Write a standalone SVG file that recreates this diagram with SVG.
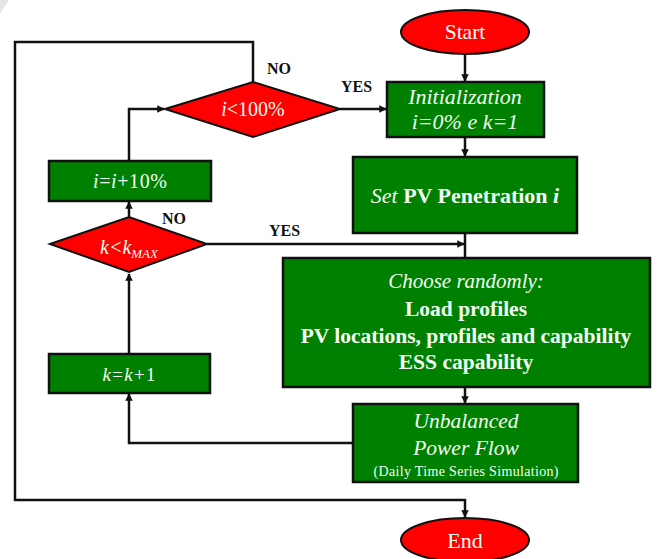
<svg xmlns="http://www.w3.org/2000/svg" width="658" height="559" viewBox="0 0 658 559">
<style>
.box{fill:#008000;stroke:#111;stroke-width:2.5}
.dec{fill:#ff0000;stroke:#111;stroke-width:2}
.term{fill:#ff0000;stroke:#111;stroke-width:2}
.t{font-family:"Liberation Serif","Times New Roman",serif;fill:#f2fff2;text-anchor:middle}
.lbl{font-family:"Liberation Serif","Times New Roman",serif;fill:#111;font-weight:bold;font-size:16px}
.c{fill:none;stroke:#111;stroke-width:2.5}
</style>
<defs>
<marker id="ah" viewBox="0 0 10 10" refX="9" refY="5" markerWidth="3" markerHeight="3" orient="auto" markerUnits="strokeWidth">
<path d="M0,0 L10,5 L0,10 z" fill="#111"/>
</marker>
</defs>
<rect width="658" height="559" fill="#fff"/>
<polygon points="0,0 9,0 0,14" fill="#e6e6e6"/>
<g id="connectors">
<path class="c" d="M465,54 V81" marker-end="url(#ah)"/>
<path class="c" d="M465,137 V156" marker-end="url(#ah)"/>
<path class="c" d="M465,233 V258"/>
<path class="c" d="M207,244 H464" marker-end="url(#ah)"/>
<path class="c" d="M465,387 V403" marker-end="url(#ah)"/>
<path class="c" d="M353,443 H129 V394" marker-end="url(#ah)"/>
<path class="c" d="M129,354 V274" marker-end="url(#ah)"/>
<path class="c" d="M129,217 V202" marker-end="url(#ah)"/>
<path class="c" d="M129,161 V109 H164" marker-end="url(#ah)"/>
<path class="c" d="M340,109 H386" marker-end="url(#ah)"/>
<path class="c" d="M253,82 V42 H15 V500 H465 V517" marker-end="url(#ah)"/>
</g>
<g id="labels">
<text class="lbl" x="267" y="74">NO</text>
<text class="lbl" x="341" y="92">YES</text>
<text class="lbl" x="162" y="224">NO</text>
<text class="lbl" x="269" y="236">YES</text>
</g>
<g id="start">
<ellipse class="term" cx="465" cy="32" rx="64" ry="22"/>
<text class="t" x="465" y="39" font-size="21.5">Start</text>
</g>
<g id="cond_i">
<polygon class="dec" points="165,109 253,82 340,109 253,137"/>
<text class="t" x="253" y="116" font-size="20"><tspan font-style="italic">i</tspan>&lt;100%</text>
</g>
<g id="init">
<rect class="box" x="387" y="82" width="157" height="55"/>
<text class="t" x="465" y="104" font-size="22" font-style="italic">Initialization</text>
<text class="t" x="465" y="129" font-size="22" font-style="italic">i=0% e k=1</text>
</g>
<g id="setpv">
<rect class="box" x="353" y="157" width="224" height="76"/>
<text class="t" x="465" y="203" font-size="22"><tspan font-style="italic">Set</tspan> <tspan font-weight="bold">PV Penetration</tspan> <tspan font-weight="bold" font-style="italic">i</tspan></text>
</g>
<g id="inc_i">
<rect class="box" x="49" y="161" width="162" height="40"/>
<text class="t" x="130" y="188" font-size="20" textLength="74" lengthAdjust="spacing"><tspan font-style="italic">i</tspan>=<tspan font-style="italic">i</tspan>+10%</text>
</g>
<g id="cond_k">
<polygon class="dec" points="50,244 129,217 207,244 129,272"/>
<text class="t" x="129" y="254" font-size="20" font-style="italic">k&lt;k<tspan font-size="13" dy="4">MAX</tspan></text>
</g>
<g id="choose">
<rect class="box" x="283" y="258" width="367" height="129"/>
<text class="t" x="466" y="288" font-size="21" font-style="italic">Choose randomly:</text>
<text class="t" x="466" y="316" font-size="21.5" font-weight="bold">Load profiles</text>
<text class="t" x="466" y="343" font-size="21.5" font-weight="bold">PV locations, profiles and capability</text>
<text class="t" x="466" y="369" font-size="21.5" font-weight="bold">ESS capability</text>
</g>
<g id="inc_k">
<rect class="box" x="49" y="354" width="161" height="39"/>
<text class="t" x="129" y="381" font-size="19" textLength="53" lengthAdjust="spacing"><tspan font-style="italic">k</tspan>=<tspan font-style="italic">k</tspan>+1</text>
</g>
<g id="flow">
<rect class="box" x="353" y="404" width="225" height="78"/>
<text class="t" x="466" y="428" font-size="21.5" font-style="italic">Unbalanced</text>
<text class="t" x="466" y="455" font-size="21.5" font-style="italic">Power Flow</text>
<text class="t" x="466" y="476" font-size="14" textLength="185" lengthAdjust="spacing">(Daily Time  Series Simulation)</text>
</g>
<g id="end">
<ellipse class="term" cx="465" cy="540" rx="64" ry="22"/>
<text class="t" x="465" y="548" font-size="22">End</text>
</g>
</svg>
